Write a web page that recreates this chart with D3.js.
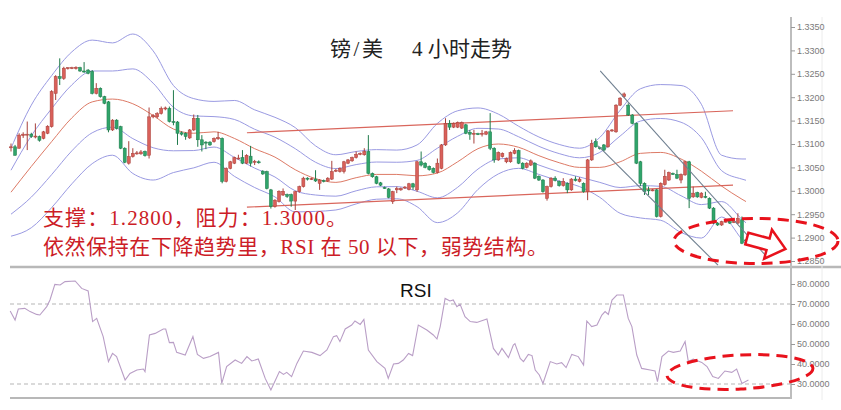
<!DOCTYPE html>
<html><head><meta charset="utf-8">
<script src="https://cdn.jsdelivr.net/npm/d3@7/dist/d3.min.js"></script>
<style>body{margin:0;background:#fff;}svg{display:block;}</style>
</head><body>
<svg id="c" width="841" height="410"></svg>
<script>
// ---------------- DATA ----------------
const opens = [1.3092,1.3094,1.3091,1.3118,1.3120,1.3121,1.3116,1.3116,1.3112,1.3123,1.3137,1.3208,1.3244,1.3240,1.3262,1.3262,1.3261,1.3263,1.3256,1.3258,
1.3255,1.3208,1.3219,1.3201,1.3190,1.3130,1.3151,1.3137,1.3091,1.3059,1.3073,1.3079,1.3079,1.3084,1.3076,1.3158,1.3158,1.3165,1.3175,1.3176,
1.3148,1.3147,1.3124,1.3123,1.3113,1.3130,1.3155,1.3109,1.3104,1.3104,1.3105,1.3111,1.3112,1.3020,1.3048,1.3059,1.3069,1.3071,1.3059,1.3074,
1.3062,1.3062,1.3042,1.3041,1.3002,1.2966,1.2977,1.2991,1.2992,1.2992,1.2978,1.2998,1.3009,1.3027,1.3025,1.3025,1.3016,1.3022,1.3021,1.3025,
1.3042,1.3041,1.3041,1.3059,1.3064,1.3071,1.3078,1.3077,1.3084,1.3037,1.3030,1.3017,1.3007,1.3004,1.2977,1.3002,1.3002,1.3006,1.3003,1.3015,
1.3002,1.3062,1.3059,1.3052,1.3048,1.3039,1.3048,1.3098,1.3144,1.3136,1.3136,1.3134,1.3141,1.3125,1.3122,1.3122,1.3122,1.3121,1.3126,1.3091,
1.3066,1.3073,1.3062,1.3062,1.3080,1.3086,1.3059,1.3050,1.3055,1.3059,1.3031,1.3023,1.2984,1.3009,1.3027,1.3020,1.3011,1.3016,1.3002,1.3025,
1.3020,1.3016,1.2998,1.3066,1.3105,1.3092,1.3098,1.3094,1.3128,1.3126,1.3183,1.3201,1.3183,1.3162,1.3144,1.3062,1.3016,1.3002,1.3001,1.3002,
1.2945,1.3013,1.3023,1.3037,1.3035,1.3023,1.3034,1.3062,1.2987,1.2996,1.2986,1.2988,1.2984,1.2963,1.2931,1.2927,1.2934,1.2934,1.2933,1.2931,
1.2938,1.2895];
const highs = [1.3101,1.3098,1.3123,1.3125,1.3148,1.3124,1.3144,1.3118,1.3128,1.3140,1.3215,1.3247,1.3283,1.3265,1.3264,1.3265,1.3266,1.3265,1.3275,1.3260,
1.3258,1.3230,1.3221,1.3203,1.3192,1.3153,1.3153,1.3139,1.3093,1.3106,1.3091,1.3085,1.3087,1.3086,1.3178,1.3164,1.3168,1.3180,1.3180,1.3180,
1.3215,1.3149,1.3127,1.3125,1.3132,1.3163,1.3162,1.3119,1.3106,1.3106,1.3114,1.3126,1.3114,1.3050,1.3064,1.3073,1.3077,1.3087,1.3078,1.3096,
1.3066,1.3065,1.3044,1.3043,1.3004,1.2982,1.3001,1.3005,1.2994,1.2994,1.3000,1.3011,1.3030,1.3029,1.3028,1.3044,1.3025,1.3024,1.3029,1.3064,
1.3047,1.3050,1.3064,1.3068,1.3073,1.3084,1.3082,1.3091,1.3119,1.3039,1.3032,1.3019,1.3009,1.3006,1.3000,1.3009,1.3007,1.3010,1.3017,1.3017,
1.3064,1.3084,1.3061,1.3054,1.3050,1.3069,1.3100,1.3155,1.3151,1.3146,1.3148,1.3148,1.3143,1.3130,1.3130,1.3124,1.3130,1.3128,1.3166,1.3093,
1.3084,1.3082,1.3071,1.3084,1.3091,1.3088,1.3061,1.3061,1.3067,1.3061,1.3033,1.3025,1.3011,1.3029,1.3031,1.3022,1.3027,1.3018,1.3027,1.3031,
1.3029,1.3018,1.3068,1.3109,1.3112,1.3094,1.3100,1.3130,1.3132,1.3185,1.3200,1.3210,1.3187,1.3164,1.3146,1.3064,1.3018,1.3009,1.3004,1.3004,
1.3018,1.3045,1.3041,1.3039,1.3045,1.3037,1.3064,1.3064,1.3009,1.2998,1.2997,1.2998,1.2986,1.2965,1.2933,1.2936,1.2937,1.2936,1.2936,1.2952,
1.2945,1.2897];
const lows = [1.3084,1.3075,1.3090,1.3113,1.3087,1.3113,1.3112,1.3105,1.3110,1.3121,1.3135,1.3194,1.3226,1.3237,1.3259,1.3260,1.3259,1.3254,1.3252,1.3249,
1.3206,1.3206,1.3199,1.3185,1.3125,1.3128,1.3131,1.3089,1.3059,1.3056,1.3071,1.3077,1.3077,1.3073,1.3069,1.3155,1.3155,1.3163,1.3172,1.3146,
1.3140,1.3098,1.3118,1.3109,1.3111,1.3128,1.3094,1.3084,1.3089,1.3096,1.3103,1.3109,1.3016,1.3018,1.3046,1.3057,1.3067,1.3057,1.3057,1.3052,
1.3055,1.3058,1.3034,1.3003,1.2962,1.2964,1.2975,1.2989,1.2985,1.2966,1.2959,1.2996,1.3007,1.3022,1.3023,1.3019,1.3002,1.3018,1.3019,1.3023,
1.3040,1.3039,1.3037,1.3057,1.3062,1.3069,1.3076,1.3075,1.3035,1.3028,1.3014,1.3010,1.3004,1.2984,1.2972,1.2995,1.3000,1.3004,1.3001,1.3002,
1.2998,1.3052,1.3048,1.3043,1.3037,1.3037,1.3046,1.3096,1.3130,1.3134,1.3134,1.3132,1.3121,1.3109,1.3101,1.3119,1.3116,1.3119,1.3087,1.3060,
1.3064,1.3071,1.3059,1.3060,1.3078,1.3057,1.3046,1.3048,1.3053,1.3025,1.3021,1.2996,1.2979,1.3007,1.3020,1.3009,1.3009,1.2995,1.3000,1.3020,
1.3018,1.2996,1.2980,1.3064,1.3092,1.3088,1.3085,1.3092,1.3126,1.3124,1.3181,1.3199,1.3160,1.3142,1.3057,1.3010,1.2991,1.2991,1.2999,1.2943,
1.2943,1.3011,1.3021,1.3034,1.3025,1.3016,1.3032,1.2963,1.2985,1.2985,1.2984,1.2984,1.2961,1.2929,1.2925,1.2925,1.2932,1.2929,1.2931,1.2929,
1.2886,1.2892];
const closes = [1.3094,1.3076,1.3119,1.3121,1.3121,1.3116,1.3117,1.3108,1.3126,1.3138,1.3212,1.3244,1.3240,1.3262,1.3263,1.3263,1.3264,1.3256,1.3254,1.3251,
1.3208,1.3219,1.3201,1.3187,1.3130,1.3151,1.3133,1.3091,1.3061,1.3073,1.3080,1.3081,1.3083,1.3075,1.3158,1.3161,1.3165,1.3176,1.3177,1.3148,
1.3147,1.3123,1.3121,1.3116,1.3130,1.3155,1.3109,1.3098,1.3103,1.3098,1.3112,1.3114,1.3020,1.3048,1.3062,1.3071,1.3070,1.3059,1.3076,1.3059,
1.3063,1.3061,1.3036,1.3005,1.2966,1.2980,1.2999,1.2999,1.2988,1.2978,1.2998,1.3009,1.3027,1.3025,1.3026,1.3021,1.3023,1.3021,1.3027,1.3041,
1.3044,1.3048,1.3062,1.3066,1.3071,1.3078,1.3080,1.3084,1.3037,1.3030,1.3016,1.3012,1.3006,1.2986,1.2998,1.3005,1.3005,1.3008,1.3015,1.3008,
1.3062,1.3055,1.3050,1.3045,1.3039,1.3059,1.3098,1.3144,1.3136,1.3144,1.3146,1.3146,1.3123,1.3121,1.3123,1.3121,1.3123,1.3126,1.3091,1.3066,
1.3082,1.3080,1.3069,1.3082,1.3086,1.3059,1.3048,1.3059,1.3064,1.3027,1.3023,1.2998,1.3009,1.3027,1.3022,1.3011,1.3020,1.3002,1.3025,1.3022,
1.3025,1.2998,1.3066,1.3101,1.3094,1.3091,1.3087,1.3128,1.3130,1.3183,1.3198,1.3207,1.3162,1.3144,1.3059,1.3016,1.2998,1.3001,1.3002,1.2945,
1.3016,1.3031,1.3039,1.3036,1.3027,1.3035,1.3062,1.2984,1.2995,1.2987,1.2995,1.2987,1.2963,1.2931,1.2927,1.2934,1.2935,1.2931,1.2934,1.2941,
1.2888,1.2894];

const bandIdx = [0,5,10,15,20,25,30,35,40,45,50,55,60,65,70,75,80,85,90,95,100,105,110,115,120,125,130,135,140,145,150,155,160,165,170,175,180,181];
const bandMid = [1.2997,1.3052,1.3105,1.3156,1.3190,1.3196,1.3186,1.3161,1.3132,1.3123,1.3126,1.3112,1.3090,1.3072,1.3045,1.3026,1.3018,1.3028,1.3035,1.3035,
1.3032,1.3038,1.3062,1.3090,1.3100,1.3093,1.3075,1.3060,1.3050,1.3050,1.3062,1.3080,1.3082,1.3068,1.3042,1.3010,1.2982,1.2977];
const bandDev = [0.0094,0.0131,0.0141,0.0141,0.0132,0.0120,0.0149,0.0138,0.0093,0.0074,0.0065,0.0081,0.0083,0.0085,0.0090,0.0070,0.0059,0.0056,0.0053,0.0052,
0.0066,0.0106,0.0109,0.0087,0.0064,0.0045,0.0040,0.0039,0.0041,0.0064,0.0110,0.0138,0.0145,0.0157,0.0143,0.0066,0.0086,0.0091];

// RSI vertices (candle position, value)
const rsiIdx = [-0.2,1.0,1.8,3.4,4.7,6.3,7.1,8.8,9.6,10.8,12.1,13.3,15.8,17.4,19.0,20.1,21.1,22.7,24.0,25.0,26.0,28.1,29.3,31.0,32.6,33.0,34.1,35.5,37.5,38.1,
39.0,40.0,40.8,42.9,44.8,45.9,47.4,49.0,51.1,51.9,53.1,55.2,56.8,58.1,59.3,60.9,62.6,64.0,66.1,67.1,67.9,69.1,70.4,72.0,74.1,76.1,77.8,79.4,80.2,81.0,
82.3,83.9,84.7,86.0,86.9,88.0,90.1,92.1,92.9,94.2,95.4,96.6,97.9,98.9,100.3,102.4,104.0,104.9,105.7,106.9,108.1,108.9,109.8,110.6,111.8,113.1,114.7,117.2,118.8,120.0,
120.9,122.5,123.7,124.1,125.4,126.2,127.4,128.3,129.1,130.1,131.0,132.8,134.4,135.6,136.7,138.1,139.7,141.0,141.8,143.0,144.3,145.5,146.3,147.1,148.0,149.2,150.8,152.0,152.9,154.1,
155.3,157.4,158.6,159.2,160.3,161.9,163.1,164.8,166.0,166.8,168.0,170.1,171.4,172.8,174.2,175.8,177.5,178.7,180.0,181.6];
const rsiVals = [66.5,62,67.5,67.8,66.2,64.8,64.5,68.7,72,79.8,79.5,81.2,81.5,77.8,76.5,61.2,62.8,53.7,41.2,45.3,43.7,32,35.3,37,37.5,36.2,54.5,55.3,57.5,57.5,
50.7,50.8,45.8,44.5,53.7,44.8,42.8,43.7,45.8,30.3,38.7,42,40.3,43.7,41.5,42.5,32.8,27,36.2,34.8,35.8,33.7,40.3,46.5,45.8,44.2,47,53.7,54.2,51.2,
57.5,59.5,61.5,59.8,62.3,47,41.2,37.8,32.8,40,40.3,42,45.3,44.2,59.5,57,54.5,52.5,58.7,72.8,71.5,72,68.7,69.8,63.7,61.2,60.8,62.5,47.8,44.5,
47.8,43.2,49.5,50.2,42.8,41.2,44.8,44.2,37,34.5,30.3,41.2,40,40.7,38.2,44.8,43.7,39.5,61.5,58.7,59.5,64.5,66.2,64.8,72,74.5,74.5,62.8,58.7,44.5,
37.8,37,36.5,31.2,43.7,46.5,45.8,46.5,51.2,41.2,42.5,40.8,38.7,33.7,32.8,36.5,35.8,37.5,30.3,32];

// analyst lines: [candle position, price]
const channelTop = [[58.1,1.3124],[177.8,1.3171]];
const channelBottom = [[58.1,1.2965],[177.8,1.3012]];
const trendUpper = [[145.1,1.3256],[185.7,1.2863]];
const trendLower = [[144.6,1.3096],[174.1,1.2841]];

const priceTicks = [1.2850,1.2900,1.2950,1.3000,1.3050,1.3100,1.3150,1.3200,1.3250,1.3300,1.3350];
const rsiTicks = [30,40,50,60,70,80];
const rsiLevels = [70,30];

const titleA = '镑/美';
const titleB = '4 小时走势';
const note1 = '支撑：1.2800，阻力：1.3000。';
const note2 = '依然保持在下降趋势里，RSI 在 50 以下，弱势结构。';

// ---------------- CHART ----------------
(function(){
const svg = d3.select('#c');
const xS = d3.scaleLinear().domain([0,181]).range([11,746]);
const yP = d3.scaleLinear().domain([1.2850,1.3350]).range([261,27]);
const yR = d3.scaleLinear().domain([30,80]).range([384,284]);

const defs = svg.append('defs');
defs.append('clipPath').attr('id','clipTop').append('rect').attr('x',0).attr('y',17).attr('width',791).attr('height',250);
defs.append('clipPath').attr('id','clipBot').append('rect').attr('x',0).attr('y',268).attr('width',791).attr('height',130);

const topG = svg.append('g').attr('clip-path','url(#clipTop)');

// bands
const bandLine = d3.line().x(d=>xS(d[0])).y(d=>yP(d[1])).curve(d3.curveMonotoneX);
const mk = k => bandIdx.map((ix,i)=>[ix, bandMid[i] + k*bandDev[i]]);
[[1,'#9a9ae2'],[0.5,'#9a9ae2'],[0,'#dd7a66'],[-0.5,'#9a9ae2'],[-1,'#9a9ae2']].forEach(([k,c])=>{
  topG.append('path').attr('d',bandLine(mk(k))).attr('fill','none').attr('stroke',c).attr('stroke-width',1);
});

// channel lines
const seg = d3.line().x(d=>xS(d[0])).y(d=>yP(d[1]));
[channelTop,channelBottom].forEach(p=>topG.append('path').attr('d',seg(p)).attr('stroke','#d9665c').attr('stroke-width',1.2).attr('fill','none'));

// candles
const cg = topG.append('g');
opens.forEach((o,i)=>{
  const c = closes[i], up = c>=o;
  const fill = up ? '#d9605a' : '#2fa56b';
  const st = up ? '#a8403b' : '#1f7a4b';
  const x = xS(i);
  cg.append('line').attr('x1',x).attr('x2',x).attr('y1',yP(highs[i])).attr('y2',yP(lows[i])).attr('stroke',st).attr('stroke-width',1);
  const yt = yP(Math.max(o,c)), yb = yP(Math.min(o,c));
  cg.append('rect').attr('x',x-1.5).attr('y',yt).attr('width',3).attr('height',Math.max(1,yb-yt)).attr('fill',fill).attr('stroke',st).attr('stroke-width',0.5);
});

// trend lines
[trendUpper,trendLower].forEach(p=>svg.append('path').attr('d',seg(p)).attr('stroke','#6f7f90').attr('stroke-width',1.1).attr('fill','none'));

// frames
svg.append('line').attr('x1',10).attr('x2',841).attr('y1',267).attr('y2',267).attr('stroke','#b8b8b8').attr('stroke-width',2.5);
svg.append('line').attr('x1',10).attr('x2',791).attr('y1',398).attr('y2',398).attr('stroke','#a0a0a0').attr('stroke-width',1.5);
svg.append('line').attr('x1',822).attr('x2',822).attr('y1',17).attr('y2',400).attr('stroke','#ececec').attr('stroke-width',1);
svg.append('line').attr('x1',791).attr('x2',791).attr('y1',17).attr('y2',399).attr('stroke','#bdbdbd').attr('stroke-width',2);

// axes
function styleAxis(g){
  g.select('.domain').remove();
  g.selectAll('.tick line').attr('stroke','#999');
  g.selectAll('.tick text').attr('fill','#7a7a7a').style('font-family','Arial, "Liberation Sans", sans-serif').style('font-size','9px');
}
svg.append('g').attr('transform','translate(791,0)')
  .call(d3.axisRight(yP).tickValues(priceTicks).tickSize(4).tickPadding(2).tickFormat(d3.format('.4f'))).call(styleAxis);
svg.append('g').attr('transform','translate(791,0)')
  .call(d3.axisRight(yR).tickValues(rsiTicks).tickSize(4).tickPadding(2).tickFormat(d3.format('.4f'))).call(styleAxis);

// RSI panel
const bot = svg.append('g').attr('clip-path','url(#clipBot)');
rsiLevels.forEach(v=>bot.append('line').attr('x1',10).attr('x2',791).attr('y1',yR(v)).attr('y2',yR(v))
  .attr('stroke','#b5b5b5').attr('stroke-dasharray','4,3').attr('stroke-width',1));
const rl = d3.line().x(d=>xS(d[0])).y(d=>yR(d[1]));
bot.append('path').attr('d',rl(rsiIdx.map((ix,i)=>[ix,rsiVals[i]]))).attr('fill','none').attr('stroke','#b99ec6').attr('stroke-width',1.1);
svg.append('text').attr('x',400).attr('y',297).text('RSI').attr('fill','#111')
  .style('font-family','Arial, "Liberation Sans", sans-serif').style('font-size','19px');

// annotations
const red = '#e8121c';
svg.append('ellipse').attr('cx',756).attr('cy',241).attr('rx',82).attr('ry',22.5)
  .attr('fill','none').attr('stroke',red).attr('stroke-width',3).attr('stroke-dasharray','11,7');
svg.append('ellipse').attr('cx',740).attr('cy',372).attr('rx',73).attr('ry',17).attr('transform','rotate(-3 740 372)')
  .attr('fill','none').attr('stroke',red).attr('stroke-width',3).attr('stroke-dasharray','11,7');
const arrowPts = [[0,-6],[22,-6],[22,-15],[40,0],[22,15],[22,6],[0,6]];
svg.append('path').attr('d',d3.line()(arrowPts)+'Z')
  .attr('transform',`translate(${xS(181.2)},${yP(1.2898)}) rotate(15)`)
  .attr('fill','#fff').attr('stroke',red).attr('stroke-width',2.5).attr('stroke-linejoin','miter');

// texts
const cjkSerif = '"Liberation Serif","Noto Sans CJK SC",serif';
svg.append('text').attr('x',330).attr('y',56).text(titleA).attr('fill','#222')
  .attr('textLength',53).attr('lengthAdjust','spacing')
  .style('font-family',cjkSerif).style('font-size','21px');
svg.append('text').attr('x',412).attr('y',56).text(titleB).attr('fill','#222')
  .attr('textLength',100).attr('lengthAdjust','spacing')
  .style('font-family',cjkSerif).style('font-size','21px');
svg.append('text').attr('x',43).attr('y',225).text(note1).attr('fill','#cc1d27')
  .attr('textLength',304).attr('lengthAdjust','spacing')
  .style('font-family',cjkSerif).style('font-size','21px');
svg.append('text').attr('x',43).attr('y',254).text(note2).attr('fill','#cc1d27')
  .attr('textLength',505).attr('lengthAdjust','spacing')
  .style('font-family',cjkSerif).style('font-size','21px');
})();
</script>
</body></html>
